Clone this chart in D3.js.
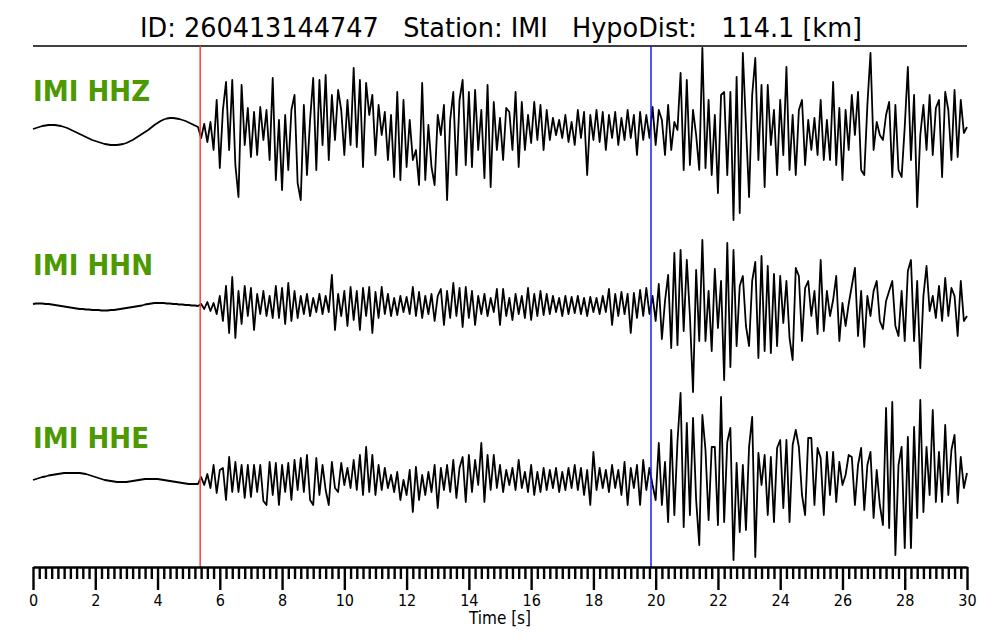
<!DOCTYPE html>
<html>
<head>
<meta charset="utf-8">
<script src="https://cdn.jsdelivr.net/npm/d3@7"></script>
<style>
  body { margin: 0; background: #fff; }
  svg { font-family: 'DejaVu Sans', sans-serif; }
</style>
</head>
<body>
<svg></svg>
<script>
let width = 1000;
let height = 640;

const title = 'ID: 260413144747   Station: IMI   HypoDist:   114.1 [km]';
const channels = ['IMI HHZ', 'IMI HHN', 'IMI HHE'];
const dt = 0.1;        // sample interval [s]
const pTime = 5.37;    // P pick [s]
const sTime = 19.85;   // S pick [s]
const majorTicks = [0, 2, 4, 6, 8, 10, 12, 14, 16, 18, 20, 22, 24, 26, 28, 30];
const minorStep = 0.2;

// amplitudes, one sample every dt
const hhz = [
  1, 2, 3, 4, 4.5, 5, 5, 5, 4.5, 4,
  3, 2, 0.5, -1, -2.5, -4, -5.5, -7, -8.5, -10,
  -11, -12, -13, -14, -14.5, -15, -15, -15, -14.5, -14,
  -13, -11.5, -10, -8, -6, -4, -2, 0, 2.5, 5,
  7, 9, 10.5, 11.5, 12, 12, 11.5, 11, 10, 9,
  7.5, 6, 4.5, 3, -8, 6, -12, 8, -20, 30,
  -38, 20, 48, -20, 50, -35, -67, 45, -15, 22,
  -27, 18, -25, 23, -10, 20, -30, 52, -50, 10,
  -60, 15, -40, 20, 35, -53, -70, 25, -45, 10,
  52, -40, 50, -15, 55, -30, 35, -10, 40, 20,
  -25, 30, -15, 62, -17, 50, -37, 47, 15, 35,
  -25, 25, -5, 18, -30, 15, -47, 38, -50, 30,
  -37, 10, -30, -20, -55, 47, -50, 5, -37, -55,
  15, -5, 25, -70, 10, 38, -45, 30, 50, -35,
  38, -37, 40, -20, 20, -48, 45, -57, 28, -20,
  12, -30, 22, 18, -20, 38, -37, 28, -20, 15,
  -13, 28, -10, 25, -20, 20, -10, 12, -5, 10,
  -8, 15, -12, 8, -15, 20, -8, 18, -45, 15,
  -10, 20, -12, 18, -20, 15, -8, 18, -15, 12,
  -10, 20, -8, 15, -25, 18, -10, 15, -8, 23,
  -15, 20, 10, -25, 25, -20, 8, 0, 57, -40,
  50, -35, 20, -5, -40, 82, -38, 30, -45, 15,
  -63, 35, 38, -45, 38, -90, 53, -83, 77, 5,
  -67, 35, 72, -30, 45, -57, 45, -15, 20, -45,
  30, -25, 63, -40, 15, -45, 20, 30, -35, 10,
  -20, 12, -25, 30, -30, 10, -30, 48, -35, 22,
  -50, 20, -20, 35, -5, 38, -40, -45, 25, 77,
  -20, 8, -5, -10, 15, 28, -47, 25, -40, -47,
  3, 63, -30, 35, -77, -5, 25, -20, 35, -25,
  22, 30, -47, 38, 20, -30, 40, -27, 30, -3,
  3
];

const hhn = [
  2, 2.5, 2.5, 2.5, 2, 2, 1.5, 1, 0.5, 0,
  -0.5, -1, -1.5, -2, -2.5, -3, -3, -3.5, -3.5, -4,
  -4, -4, -4.5, -4.5, -4.5, -4, -4, -3.5, -3, -2.5,
  -2, -1.5, -1, -0.5, 0, 0.5, 1.5, 2, 2.5, 3,
  3, 3, 3, 2.5, 2.5, 2, 2, 1.5, 1.5, 1,
  1, 0.5, 0.5, 0, 2, -3, 4, -5, 3, -8,
  10, -15, 20, -27, 29, -32, 15, -18, 20, -10,
  18, -24, 12, -8, 15, -10, 10, -12, 20, -12,
  18, -18, 23, -15, 15, -12, 10, -8, 12, -10,
  8, -6, 12, -8, 10, -6, 31, -24, 12, -10,
  15, -20, 19, -14, 15, -24, 18, -10, 19, -27,
  14, -12, 19, -8, 12, -10, 8, -9, 10, -6,
  9, -8, 19, -10, 14, -12, 10, -8, 12, -15,
  10, 17, -19, 15, -12, 23, -10, 18, -21, 19,
  -12, 15, -19, 10, -8, 12, -10, 8, -6, 17,
  -19, 17, -10, 8, -14, 12, -8, 10, -12, 18,
  -14, 12, -10, 15, -9, 12, -8, 10, -6, 8,
  -10, 10, -8, 9, -7, 10, -8, 8, -10, 9,
  -6, 8, -8, 10, -6, 17, -19, 12, -10, 14,
  -8, 12, -27, 13, -12, 16, -10, 18, -8, 10,
  -15, 22, -33, 5, 31, -42, 53, -39, 56, -25,
  46, -10, -86, 36, -35, 66, -35, 15, -45, 37,
  -22, 25, -74, 63, -61, 56, -40, 20, 30, -20,
  -40, 25, 44, -52, 50, -45, 40, -47, 32, -40,
  30, -17, 25, -32, -54, 38, 30, -35, 18, 25,
  -10, 15, -28, 46, -25, 15, -10, 6, 30, -35,
  3, -20, 2, 20, 38, -30, 15, -41, 10, -10,
  15, 25, -15, -23, 5, 15, 25, -20, -30, 15,
  -35, 35, 46, -35, 25, -62, 10, 40, -5, 10,
  -12, 20, -15, 28, -10, 18, 10, -30, 25, -15,
  -10
];

const hhe = [
  0, 1, 2, 3, 3.5, 4.5, 5, 5.5, 6, 6.5,
  7, 7, 7, 7, 7, 7, 6.5, 6, 5, 4,
  3, 2, 1, 0, -0.5, -1, -1.5, -2, -2, -2,
  -2, -1.5, -1, -0.5, 0, 0.5, 1, 1, 1, 1,
  1, 0.5, 0, -0.5, -1, -1.5, -2, -2.5, -3, -3.5,
  -4, -4, -4, -4, 3, -5, 6, -8, 15, -13,
  10, 12, -20, 23, -12, 18, -12, 15, -18, 15,
  -17, 15, -12, 15, -21, -25, 18, -15, 17, -25,
  15, -12, 17, -20, 20, -10, 22, -12, 25, -20,
  -25, 22, -15, 15, -10, -25, 18, -8, -12, 17,
  -5, 12, -8, 20, -10, 25, -15, 33, -12, 25,
  -15, 15, -10, 12, -8, 5, -12, 8, -20, 0,
  -15, 10, -32, 13, -20, 5, -15, 8, -12, 15,
  -28, 12, -10, 15, -12, 20, -18, 12, 23, -22,
  25, -12, 20, -5, 37, -22, 25, -10, 25, -8,
  15, -12, 10, -5, 12, -10, 20, -8, 8, -12,
  15, -15, 8, -12, 12, -10, 10, -8, 12, -12,
  8, -10, 12, -8, 15, -10, 12, -15, 10, -25,
  28, -10, 12, -8, 10, -12, 15, -8, 10, -15,
  18, -25, 12, -8, 15, -25, 20, -10, 12, -5,
  -20, 37, -25, 18, -42, 50, -35, 38, 87, -47,
  57, -35, 62, -20, -65, 65, 30, -40, 33, 33,
  -45, 83, -42, 38, 52, -80, 17, -52, 15, -50,
  33, 63, -77, 27, -5, 25, -35, 23, -42, 32,
  40, -28, 40, -42, 35, 50, 33, -15, -35, 42,
  42, -25, 32, 22, -35, 28, -15, 28, -22, 18,
  -5, 5, 25, 23, -25, 15, 32, -30, 15, 28,
  -38, 10, -25, -45, 72, -48, 78, -75, 15, 33,
  -68, 43, -68, 53, -38, 80, -32, 33, -15, 70,
  -22, 28, -22, 55, -15, 30, 45, -23, 23, -8,
  7
];

const traces = [hhz, hhn, hhe];
const traceCenters = [130, 306, 480];
const labelBaselines = [101, 275, 448];

let svg = d3.select('svg')
            .attr('width', width)
            .attr('height', height);

let x = d3.scaleLinear()
          .domain([0, 30])
          .range([33, 967]);

// amplitude -> pixel offset around each trace's centre
let amp = d3.scaleLinear()
            .domain([-100, 100])
            .range([100, -100]);

let line = d3.line()
             .x((d, i) => x(i * dt))
             .y(d => amp(d));

// title and rule under it
svg
  .append('text')
    .attr('x', 501)
    .attr('y', 37)
    .attr('xml:space', 'preserve')
    .style('white-space', 'pre')
    .style('font-size', '26px')
    .style('font-stretch', 'condensed')
    .style('text-anchor', 'middle')
    .attr('textLength', 722)
    .attr('lengthAdjust', 'spacingAndGlyphs')
    .text(title);

svg
  .append('line')
    .attr('x1', x(0))
    .attr('x2', x(30))
    .attr('y1', 46)
    .attr('y2', 46)
    .attr('stroke', '#000')
    .attr('stroke-width', 1.5);

// waveforms
svg
  .selectAll('.trace')
  .data(traces)
  .enter()
  .append('path')
    .classed('trace', true)
    .attr('transform', (d, i) => `translate(0, ${traceCenters[i]})`)
    .attr('d', line)
    .attr('fill', 'none')
    .attr('stroke', '#000')
    .attr('stroke-width', 1.8)
    .attr('stroke-linejoin', 'round');

// channel labels
svg
  .selectAll('.label')
  .data(channels)
  .enter()
  .append('text')
    .classed('label', true)
    .attr('transform', (d, i) => `translate(33, ${labelBaselines[i]}) scale(0.9, 1)`)
    .style('font-size', '29px')
    .style('font-weight', 'bold')
    .attr('fill', '#4c9a00')
    .text(d => d);

// picks
svg
  .selectAll('.pick')
  .data([{ t: pTime, c: '#ff3b3b' }, { t: sTime, c: '#1a1aff' }])
  .enter()
  .append('line')
    .classed('pick', true)
    .attr('x1', d => x(d.t))
    .attr('x2', d => x(d.t))
    .attr('y1', 46)
    .attr('y2', 567)
    .attr('stroke', d => d.c)
    .attr('stroke-width', 1.5);

// time axis
let minorTicks = d3.range(0, 30 + 1e-9, minorStep)
                   .filter(t => Math.abs(t / 2 - Math.round(t / 2)) > 1e-6);

let minorAxis = svg
  .append('g')
    .attr('transform', 'translate(0, 567)')
    .call(d3.axisBottom(x).tickValues(minorTicks).tickSize(12).tickFormat(''));
minorAxis.select('.domain').remove();
minorAxis.selectAll('line').attr('stroke-width', 2.4);

let majorAxis = svg
  .append('g')
    .attr('transform', 'translate(0, 567)')
    .call(d3.axisBottom(x).tickValues(majorTicks).tickSizeInner(23).tickSizeOuter(0).tickPadding(5).tickFormat(d3.format('d')));
majorAxis.select('.domain').attr('stroke-width', 2.4);
majorAxis.selectAll('line').attr('stroke-width', 2.4);
majorAxis.selectAll('text')
  .style('font-family', "'DejaVu Sans', sans-serif")
  .style('font-stretch', 'condensed')
  .style('font-size', '16px')
  .attr('fill', '#000');

svg
  .append('text')
    .attr('x', x(15))
    .attr('y', 624)
    .style('font-size', '17px')
    .style('font-stretch', 'condensed')
    .style('text-anchor', 'middle')
    .text('Time [s]');
</script>
</body>
</html>
